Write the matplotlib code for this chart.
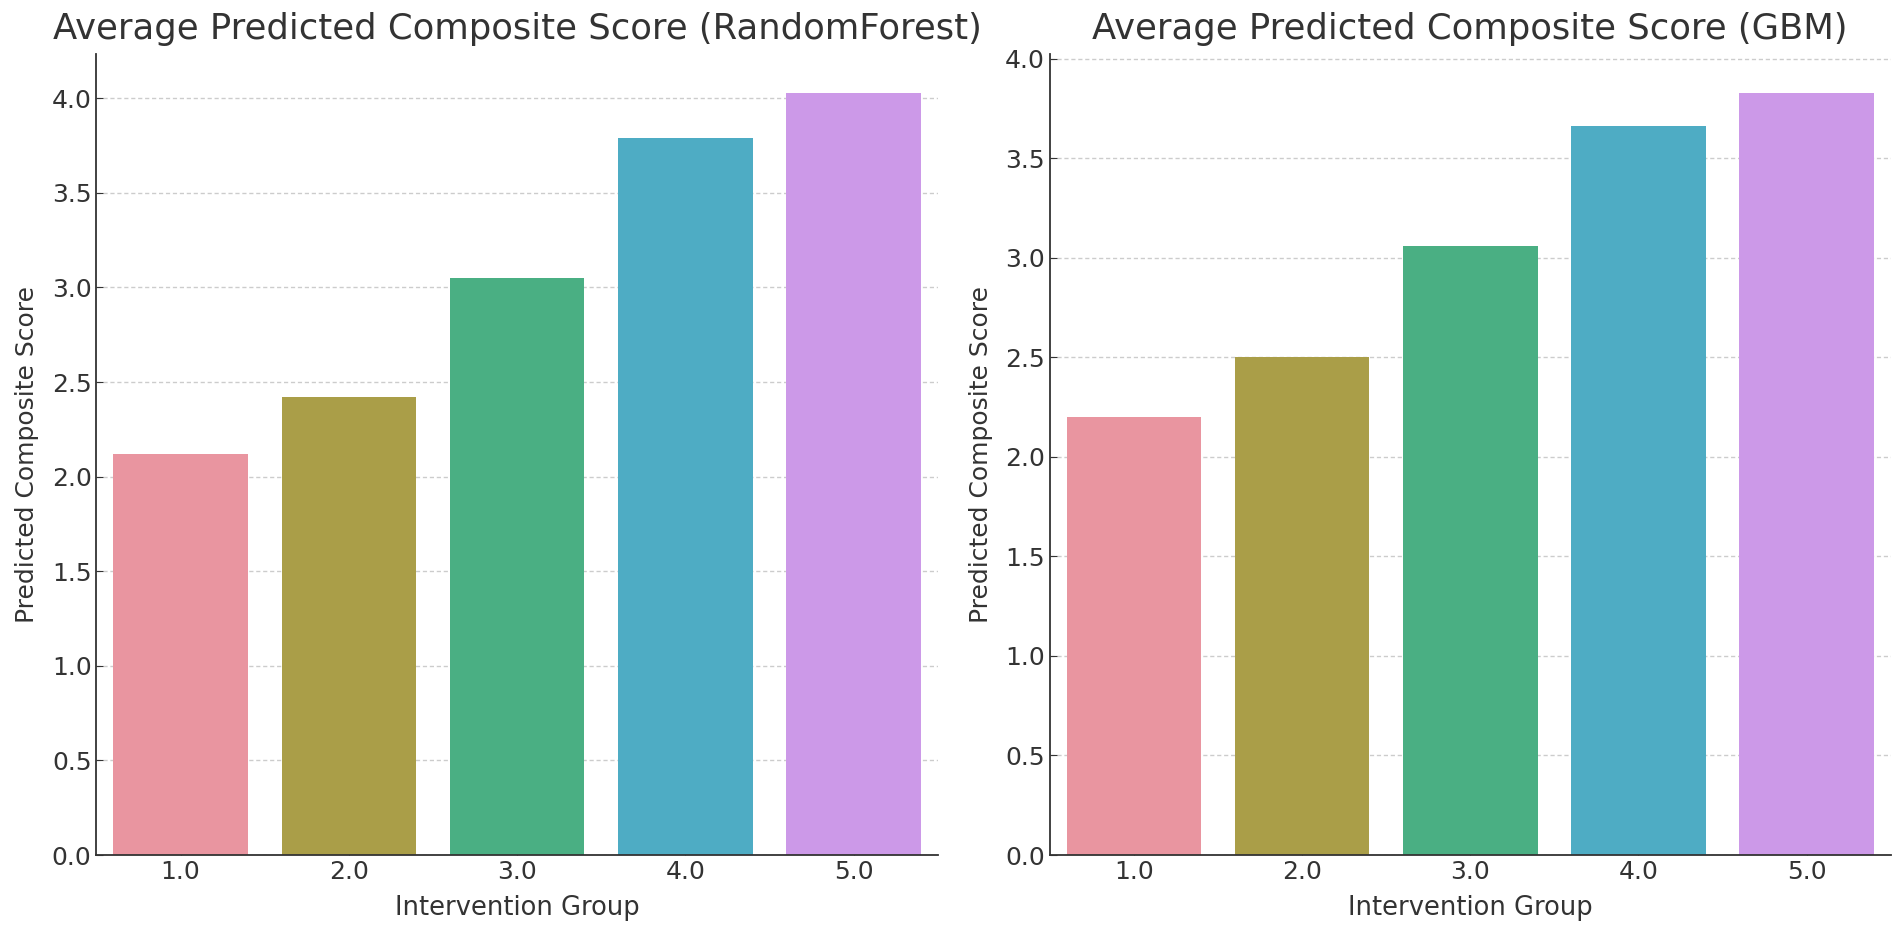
import matplotlib
matplotlib.use("Agg")
import matplotlib.pyplot as plt
import seaborn as sns

groups = ["1.0", "2.0", "3.0", "4.0", "5.0"]
rf_scores = [2.12, 2.42, 3.05, 3.79, 4.03]
gbm_scores = [2.20, 2.50, 3.06, 3.66, 3.83]

titles = ["Average Predicted Composite Score (RandomForest)",
          "Average Predicted Composite Score (GBM)"]

# bar colours (husl-like, as in the picture)
bar_colors = ["#E995A0", "#AA9E48", "#4AAF83", "#4EACC4", "#CC99E8"]
TXT = "#333333"

fig = plt.figure(figsize=(19.02, 9.33), dpi=100)
ax1 = fig.add_axes([0.0507, 0.0836, 0.4423, 0.858])
ax2 = fig.add_axes([0.552, 0.0836, 0.442, 0.858])

for ax, vals, title in zip([ax1, ax2], [rf_scores, gbm_scores], titles):
    sns.barplot(x=groups, y=vals, hue=groups, palette=bar_colors,
                saturation=1, legend=False, ax=ax)
    ax.set_xlim(-0.5, len(groups) - 0.5)
    ax.set_title(title, fontsize=25.5, color=TXT, pad=11)
    ax.set_xlabel("Intervention Group", fontsize=18.5, color=TXT, labelpad=8)
    ax.set_ylabel("Predicted Composite Score", fontsize=18, color=TXT, labelpad=9)
    ax.tick_params(direction="in", labelsize=18, labelcolor=TXT,
                   color=TXT, length=5)
    ax.yaxis.grid(True, linestyle=(0, (3, 2)), color="#cccccc", linewidth=1)
    ax.set_axisbelow(True)
    for s in ["top", "right"]:
        ax.spines[s].set_visible(False)
    for s in ["left", "bottom"]:
        ax.spines[s].set_color(TXT)
        ax.spines[s].set_linewidth(1.3)

fig.savefig("out.png", dpi=100)
